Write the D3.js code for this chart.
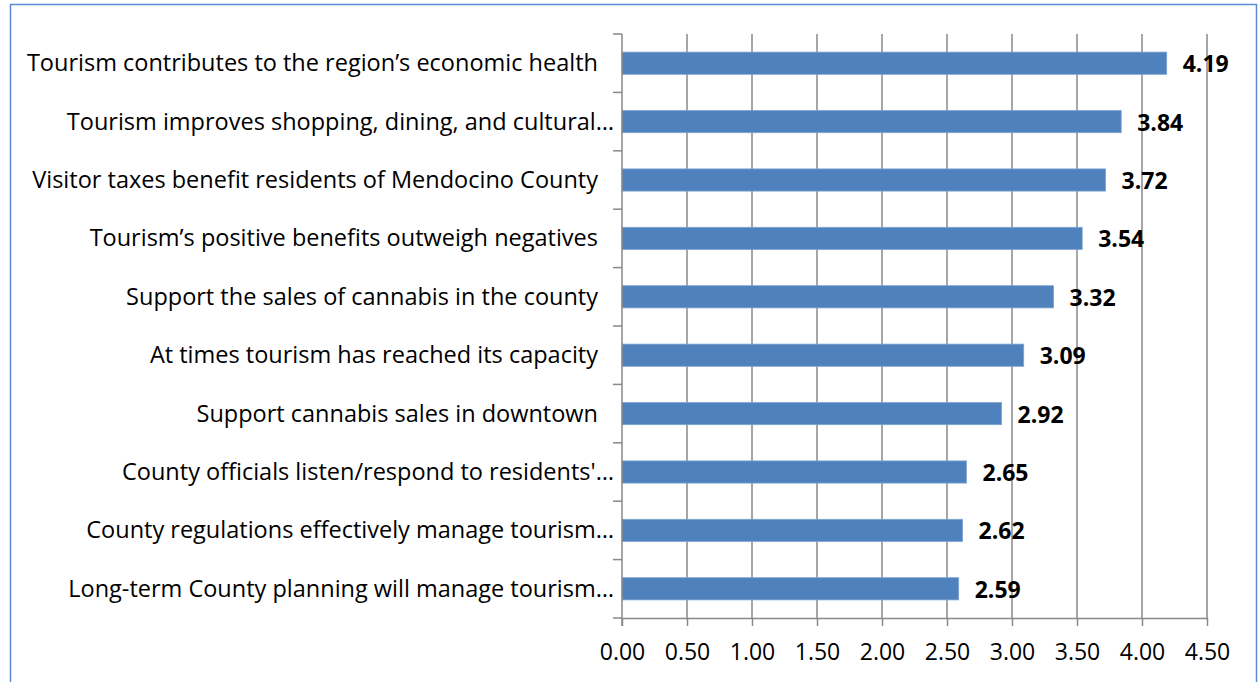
<!DOCTYPE html>
<html><head><meta charset="utf-8">
<script src="https://cdn.jsdelivr.net/npm/d3@7"></script>
<style>
html,body{margin:0;padding:0;background:#fff;}
svg{display:block;}
</style></head>
<body>
<svg id="chart" width="1258" height="682"></svg>
<script>
const categories = [
  "Tourism contributes to the region\u2019s economic health",
  "Tourism improves shopping, dining, and cultural\u2026",
  "Visitor taxes benefit residents of Mendocino County",
  "Tourism\u2019s positive benefits outweigh negatives",
  "Support the sales of cannabis in the county",
  "At times tourism has reached its capacity",
  "Support cannabis sales in downtown",
  "County officials listen/respond to residents'\u2026",
  "County regulations effectively manage tourism\u2026",
  "Long-term County planning will manage tourism\u2026"
];
const values = [4.19, 3.84, 3.72, 3.54, 3.32, 3.09, 2.92, 2.65, 2.62, 2.59];
const xTicks = [0, 0.5, 1, 1.5, 2, 2.5, 3, 3.5, 4, 4.5];
const xTickLabels = ["0.00","0.50","1.00","1.50","2.00","2.50","3.00","3.50","4.00","4.50"];

(function(){
const FONT = "'Open Sans', Lato, sans-serif";
const svg = d3.select("#chart");

svg.append("rect").attr("x",10.5).attr("y",4.5).attr("width",1246).attr("height",700)
  .attr("fill","none").attr("stroke","#5B8BD6").attr("stroke-width",1.5);

const pLeft = 622, pRight = 1207, pTop = 34, pBottom = 618;
const x = d3.scaleLinear().domain([0, 4.5]).range([pLeft, pRight]);
const y = d3.scaleBand().domain(categories).range([pTop, pBottom]).paddingInner(0.62).paddingOuter(0.31);

const gridColor = "#898989";
svg.append("g").selectAll("line").data(xTicks.slice(1)).join("line")
  .attr("x1", d => x(d)).attr("x2", d => x(d))
  .attr("y1", pTop).attr("y2", pBottom)
  .attr("stroke", gridColor).attr("stroke-width", 1.5);

svg.append("g").selectAll("rect").data(values).join("rect")
  .attr("x", x(0))
  .attr("y", (d,i) => y(categories[i]))
  .attr("width", d => x(d) - x(0))
  .attr("height", y.bandwidth())
  .attr("fill", "#4F81BD")
  .attr("stroke", "#7FA3D0").attr("stroke-width", 0.8);

const yAxisG = svg.append("g");
yAxisG.append("line").attr("x1", pLeft).attr("x2", pLeft).attr("y1", pTop).attr("y2", pBottom + 8)
  .attr("stroke", gridColor).attr("stroke-width", 1.5);
const boundaries = d3.range(categories.length + 1).map(i => pTop + i * y.step());
yAxisG.selectAll("line.tk").data(boundaries).join("line").attr("class","tk")
  .attr("x1", pLeft - 9).attr("x2", pLeft).attr("y1", d => d).attr("y2", d => d)
  .attr("stroke", gridColor).attr("stroke-width", 1.5);

const xAxis = d3.axisBottom(x).tickValues(xTicks).tickFormat((d,i) => xTickLabels[i]).tickSizeInner(8).tickSizeOuter(0).tickPadding(18);
const xg = svg.append("g").attr("transform", `translate(0,${pBottom})`).call(xAxis);
xg.select(".domain").attr("stroke", gridColor).attr("stroke-width", 1.5);
xg.selectAll(".tick line").attr("stroke", gridColor).attr("stroke-width", 1.5);
xg.selectAll(".tick text").attr("fill","#000").style("font-family", FONT).style("font-size","23px");

svg.append("g").selectAll("text").data(categories).join("text")
  .attr("x", d => d.endsWith("\u2026") ? 614 : 598)
  .attr("y", d => y(d) + y.bandwidth()/2 + 8)
  .attr("text-anchor","end")
  .style("font-family", FONT).style("font-size","23.5px").attr("fill","#000")
  .text(d => d);

svg.append("g").selectAll("text").data(values).join("text")
  .attr("x", d => x(d) + 16)
  .attr("y", (d,i) => y(categories[i]) + y.bandwidth()/2 + 9)
  .style("font-family", FONT).style("font-size","23px").style("font-weight","bold").attr("fill","#000")
  .text(d => d.toFixed(2));
})();
</script>
</body></html>
